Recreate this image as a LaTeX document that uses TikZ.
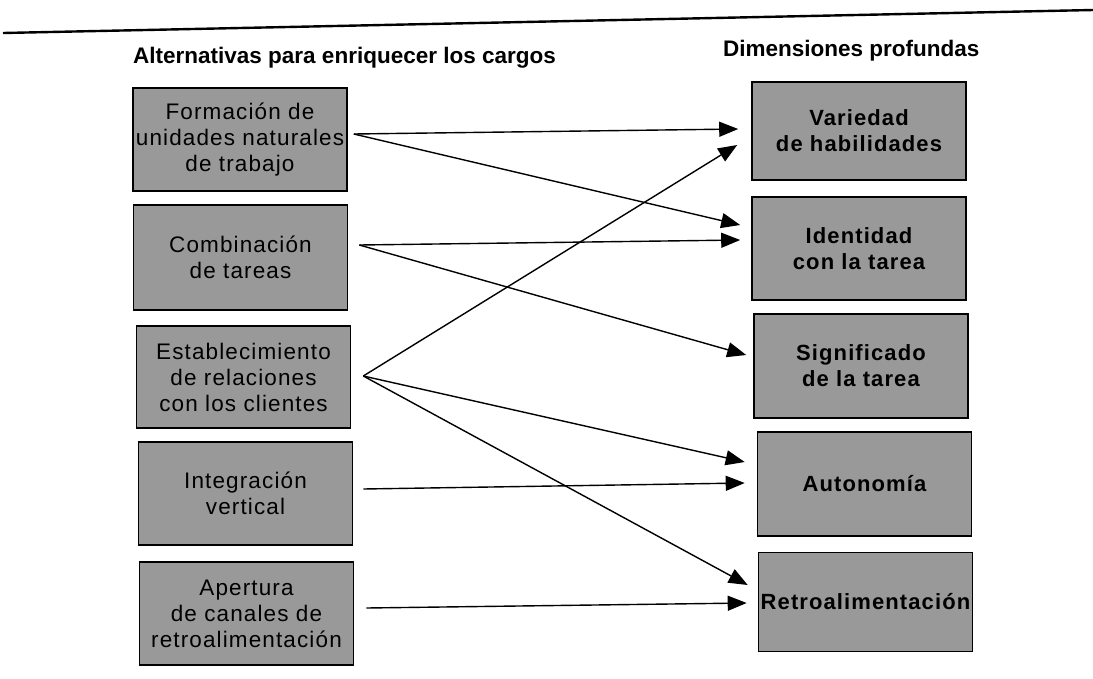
\documentclass[tikz,border=0pt]{standalone}
\usepackage{fontspec}
\setmainfont{Liberation Sans}
\newfontfamily\boxfont[LetterSpace=5]{Liberation Sans}
\usetikzlibrary{arrows.meta,calc}
\begin{document}
\begin{tikzpicture}[x=1pt,y=-1pt,
  altbox/.style={draw=black, line width=1.6pt, fill=black!40, minimum width=214pt, minimum height=103pt, align=center, inner sep=0pt, font=\boxfont\fontsize{22.5}{26}\selectfont},
  dimbox/.style={altbox, font=\boxfont\bfseries\fontsize{22}{26}\selectfont},
  title/.style={anchor=west, inner sep=0pt, font=\bfseries\fontsize{22.5}{26}\selectfont},
  link/.style={line width=1.4pt, -{Triangle[length=19pt,width=15pt]}}]
\useasboundingbox (0,0) rectangle (1093,678);
% top rule
\draw[line width=2.4pt] (3,33) -- (1093,10);
% titles
\node[title] (t1) at (133,58) {Alternativas para enriquecer los cargos};
\node[title] (t2) at (723,51) {Dimensiones profundas};
% left boxes
\node[altbox] (L1) at (240,139.5) {Formación de\\unidades naturales\\de trabajo};
\node[altbox, minimum height=105pt] (L2) at (240.5,257.5) {Combinación\\de tareas};
\node[altbox, minimum height=102pt] (L3) at (243.5,377) {Establecimiento\\de relaciones\\con los clientes};
\node[altbox] (L4) at (245.5,493.5) {Integración\\vertical};
\node[altbox] (L5) at (246.5,613.5) {Apertura\\de canales de\\retroalimentación};
% right boxes
\node[dimbox, minimum height=98pt] (R1) at (859,131) {Variedad\\de habilidades};
\node[dimbox] (R2) at (859,248.5) {Identidad\\con la tarea};
\node[dimbox, minimum height=104pt] (R3) at (861,366) {Significado\\de la tarea};
\node[dimbox, minimum height=104pt] (R4) at (864.5,484) {Autonomía};
\node[dimbox, minimum height=99pt] (R5) at (865.5,602) {Retroalimentación};
% connector end points
\coordinate (s1) at ($(L1.east)+(6,-5.5)$);
\coordinate (s2) at ($(L2.east)+(11,-12.5)$);
\coordinate (s3) at ($(L3.east)+(12,-1)$);
\coordinate (s4) at ($(L4.east)+(10,-4.5)$);
\coordinate (s5) at ($(L5.east)+(12,-5.5)$);
\coordinate (r1a) at ($(R1.west)+(-13,-2)$);
\coordinate (r1b) at ($(R1.west)+(-14,14)$);
\coordinate (r2a) at ($(R2.west)+(-11,-23.5)$);
\coordinate (r2b) at ($(R2.west)+(-11,-8.5)$);
\coordinate (r3a) at ($(R3.west)+(-7,-11)$);
\coordinate (r4a) at ($(R4.west)+(-12,-22)$);
\coordinate (r4b) at ($(R4.west)+(-12,-1)$);
\coordinate (r5a) at ($(R5.west)+(-10,-17)$);
\coordinate (r5b) at ($(R5.west)+(-11,1)$);
% connectors
\draw[link] (s1) -- (r1a);
\draw[link] (s1) -- (r2a);
\draw[link] (s2) -- (r2b);
\draw[link] (s2) -- (r3a);
\draw[link] (s3) -- (r1b);
\draw[link] (s3) -- (r4a);
\draw[link] (s3) -- (r5a);
\draw[link] (s4) -- (r4b);
\draw[link] (s5) -- (r5b);
\end{tikzpicture}
\end{document}
